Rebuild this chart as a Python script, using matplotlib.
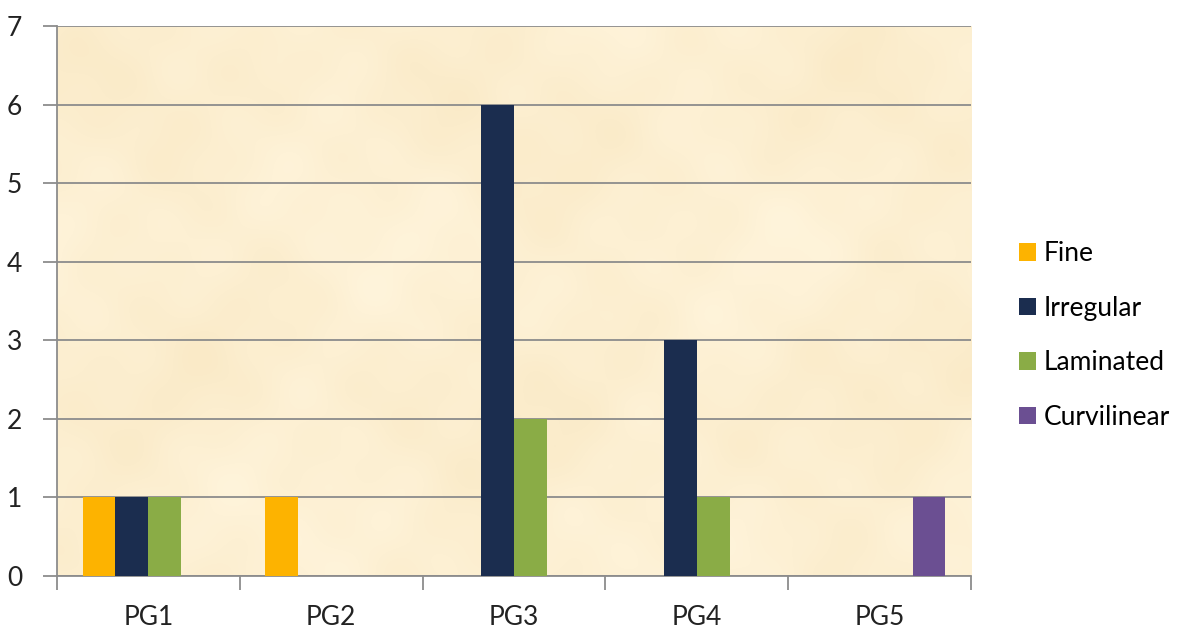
import numpy as np
import matplotlib
matplotlib.use("Agg")
import matplotlib.pyplot as plt
from matplotlib.patches import Patch

groups = ["PG1", "PG2", "PG3", "PG4", "PG5"]
series_names = ["Fine", "Irregular", "Laminated", "Curvilinear"]
fine = [1, 1, 0, 0, 0]
irregular = [1, 0, 6, 3, 0]
laminated = [1, 0, 2, 1, 0]
curvilinear = [0, 0, 0, 0, 1]
colors = ["#FDB300", "#1B2D4F", "#8AAC46", "#6B4F92"]

plt.rcParams["font.family"] = ["Lato", "DejaVu Sans"]

fig = plt.figure(figsize=(11.8, 6.34), dpi=100)
ax = fig.add_axes([0.0483, 0.0915, 0.7746, 0.8675])

# parchment-like backdrop
h, w = 220, 360
yy, xx = np.mgrid[0:h, 0:w] / 40.0
tex = (np.sin(xx * 1.7 + np.cos(yy * 1.3)) + np.sin(yy * 2.1 + 0.7 * np.sin(xx * 0.9))
       + 0.6 * np.sin(xx * 3.3 + yy * 2.7) + 0.5 * np.cos(xx * 4.1 - yy * 3.6)
       + 0.4 * np.sin(xx * 7.3 + yy * 5.1) + 0.3 * np.cos(xx * 6.2 - yy * 8.4))
tex = (tex - tex.min()) / (tex.max() - tex.min())
base = np.array([255, 244, 219]) / 255.0
dark = np.array([250, 234, 199]) / 255.0
img = base[None, None, :] * (1 - tex[..., None]) + dark[None, None, :] * tex[..., None]
ax.imshow(img, extent=[-0.5, 4.5, 0, 7], aspect="auto", zorder=0, interpolation="bicubic")

values = [fine, irregular, laminated, curvilinear]
x = np.arange(len(groups))
bw = 0.18
for i, (vals, c, name) in enumerate(zip(values, colors, series_names)):
    ax.bar(x + (i - 1.5) * bw, vals, width=bw, color=c, zorder=3, label=name)

ax.set_xlim(-0.5, 4.5)
ax.set_ylim(0, 7)
ax.set_yticks(range(0, 8))
ax.yaxis.grid(True, color="#8C8C8C", linewidth=1.3, zorder=1)
ax.set_axisbelow(True)
for s in ["top", "right"]:
    ax.spines[s].set_visible(False)
for s in ["left", "bottom"]:
    ax.spines[s].set_color("#8C8C8C")
    ax.spines[s].set_linewidth(1.3)
ax.set_xticks(x)
ax.set_xticklabels(groups)
ax.set_xticks(np.arange(-0.5, 5.0, 1.0), minor=True)
ax.tick_params(axis="x", which="major", length=0, pad=21, labelsize=19, labelcolor="#222222")
ax.tick_params(axis="x", which="minor", length=10, width=1.3, color="#8C8C8C")
ax.tick_params(axis="y", length=10, width=1.3, color="#8C8C8C", pad=15, labelsize=19, labelcolor="#222222")

handles = [Patch(facecolor=c, edgecolor="none") for c in colors]
fig.legend(handles, series_names, loc="center left", bbox_to_anchor=(0.8635, 0.471),
           frameon=False, fontsize=19, handlelength=0.65, handleheight=0.65,
           handletextpad=0.3, labelspacing=1.12, borderpad=0, borderaxespad=0)

fig.savefig("out.png", dpi=100, facecolor="white")
